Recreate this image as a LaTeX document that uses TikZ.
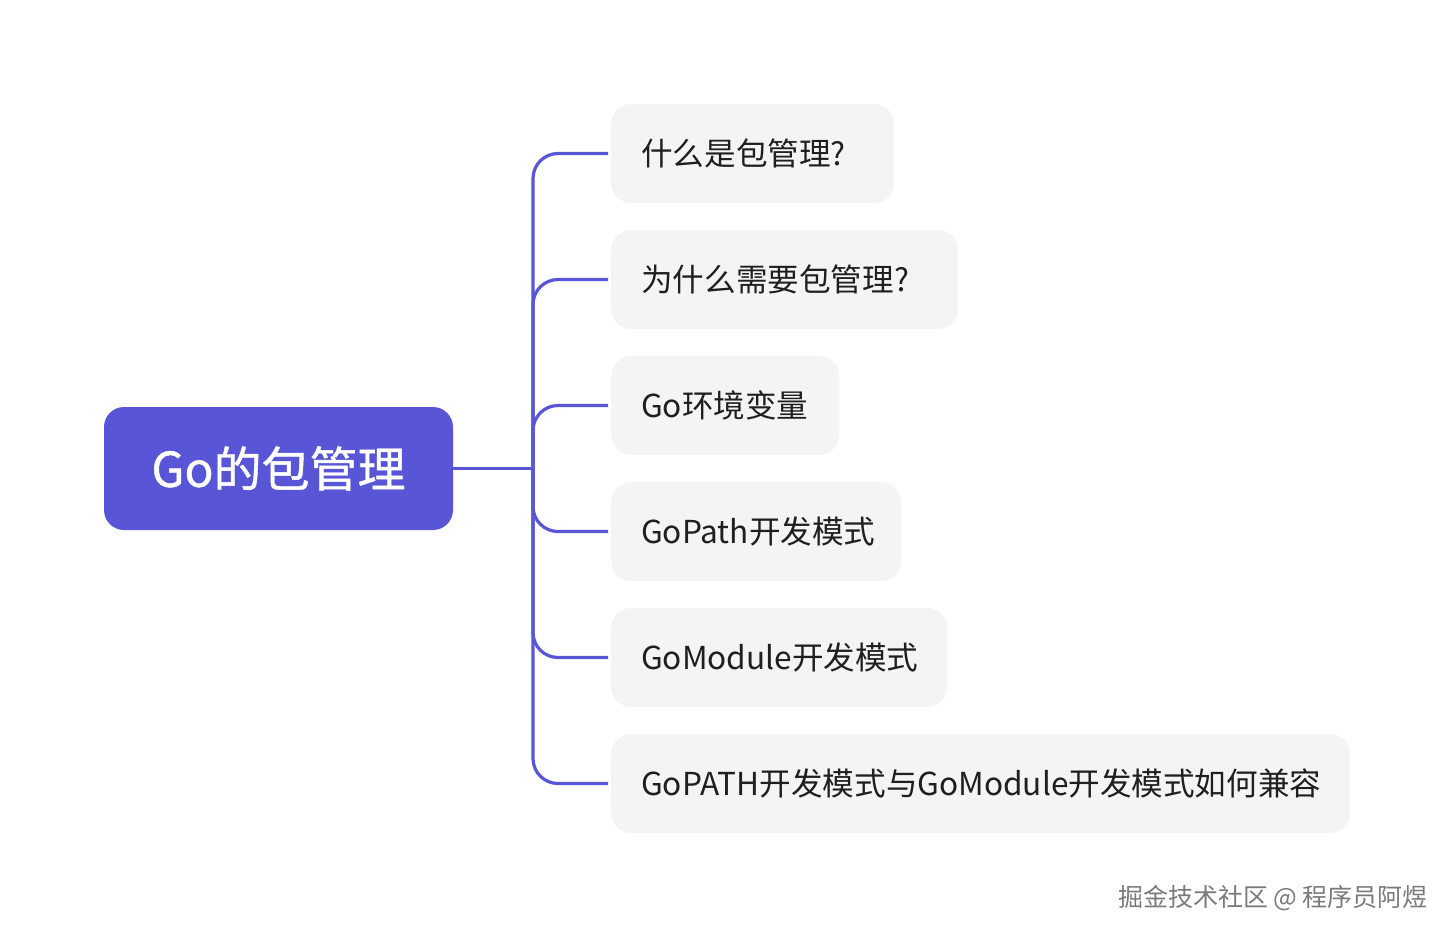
\documentclass[tikz,border=0pt]{standalone}
\usepackage{fontspec}
\setmainfont{Noto Sans CJK SC}
\newfontfamily\rootfont[FakeBold=0.9]{Noto Sans CJK SC}
\definecolor{mainpurple}{HTML}{5856D6}
\definecolor{childfill}{HTML}{F4F4F4}
\definecolor{childtext}{HTML}{1F1F1F}
\definecolor{wmgray}{HTML}{7A7A7A}
\begin{document}
\begin{tikzpicture}[x=1pt,y=-1pt,
  rootbox/.style={draw=none, fill=mainpurple, rounded corners=20pt, minimum width=349pt, minimum height=123pt, text=white, font=\rootfont\fontsize{48}{56}\selectfont, inner sep=0pt},
  childbox/.style={draw=none, fill=childfill, rounded corners=20pt, minimum height=99pt, anchor=west, inner xsep=30pt, inner ysep=0pt, align=left, text=childtext, font=\fontsize{31.6}{38}\selectfont},
  link/.style={draw=mainpurple, line width=3.2pt},
  branch/.style={link, rounded corners=25pt, shorten >=3pt}
]
\useasboundingbox (0,0) rectangle (1454,938);
\node[rootbox] (root) at (278.5,468.5) {Go的包管理};
\node[childbox, text width=223pt] (c1) at (611,153.5) {什么是包管理?};
\node[childbox, text width=287pt] (c2) at (611,279.5) {为什么需要包管理?};
\node[childbox, text width=168pt] (c3) at (611,405.5) {Go环境变量};
\node[childbox, text width=230pt] (c4) at (611,531.5) {GoPath开发模式};
\node[childbox, text width=276pt] (c5) at (611,657.5) {GoModule开发模式};
\node[childbox, text width=679pt] (c6) at (611,783.5) {GoPATH开发模式与GoModule开发模式如何兼容};
\coordinate (hub) at (533,468.5);
\draw[link] (root.east) -- (hub);
\foreach \c in {c1,c2,c3,c4,c5,c6} {
  \draw[branch] (hub) |- (\c.west);
}
\node[text=wmgray, font=\fontsize{25}{30}\selectfont, inner sep=0pt] (wm) at (1273,898) {掘金技术社区 @ 程序员阿煜};
\end{tikzpicture}
\end{document}
